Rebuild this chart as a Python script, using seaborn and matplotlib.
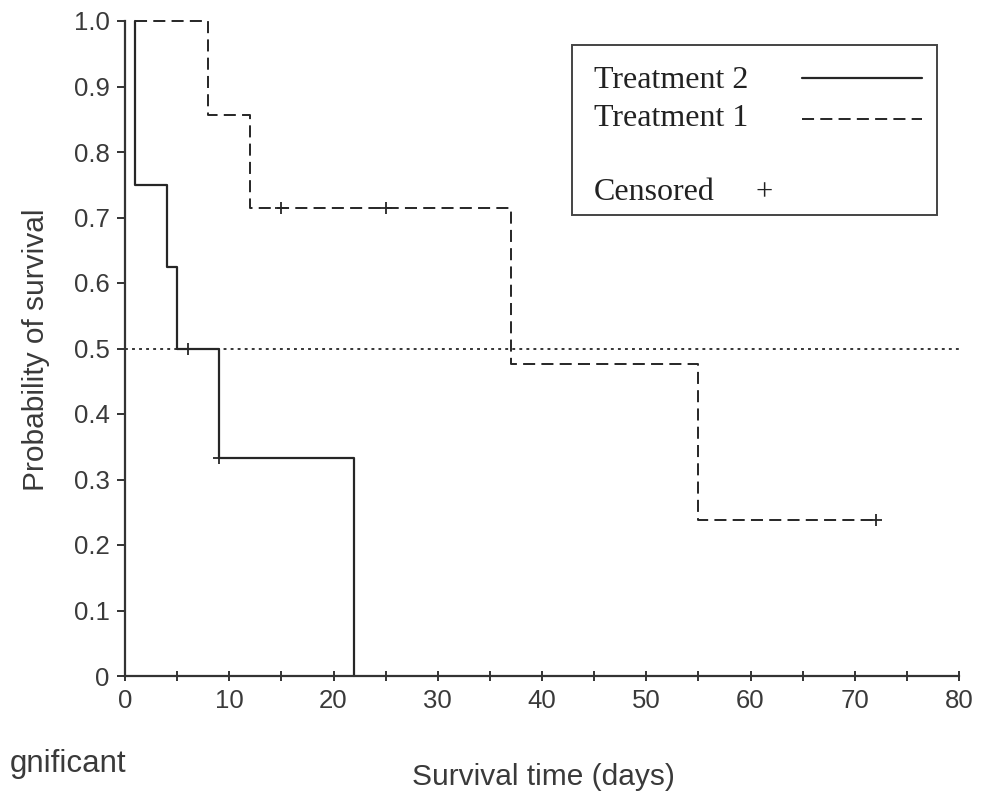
import matplotlib
matplotlib.use("Agg")
import matplotlib.pyplot as plt
from matplotlib.patches import Rectangle
import seaborn as sns
import pandas as pd
import numpy as np

# ---- data ----
t1_event_times = [1, 8, 12, 37, 55, 72]
t1_survival = [1.0, 0.857, 0.714, 0.476, 0.238, 0.238]
t1_censor_times = [15, 25, 72]
t1_censor_surv = [0.714, 0.714, 0.238]

t2_event_times = [1, 1, 4, 5, 9, 22]
t2_survival = [1.0, 0.75, 0.625, 0.5, 0.333, 0.0]
t2_censor_times = [6, 9]
t2_censor_surv = [0.5, 0.333]

median_level = 0.5
x_ticks = [0, 10, 20, 30, 40, 50, 60, 70, 80]
y_ticks = [0, 0.1, 0.2, 0.3, 0.4, 0.5, 0.6, 0.7, 0.8, 0.9, 1.0]
y_tick_labels = ["0", "0.1", "0.2", "0.3", "0.4", "0.5", "0.6", "0.7", "0.8", "0.9", "1.0"]

sns.set_theme(style="ticks")
plt.rcParams["font.family"] = ["Liberation Sans", "DejaVu Sans"]

W, H = 985, 793
fig = plt.figure(figsize=(W / 100, H / 100), dpi=100)
L, R, B, T = 125, 959, 676, 21
ax = fig.add_axes([L / W, 1 - B / H, (R - L) / W, (B - T) / H])

ink = "#262626"
txt = "#3a3a3a"

df1 = pd.DataFrame({"time": t1_event_times, "surv": t1_survival})
df2 = pd.DataFrame({"time": t2_event_times, "surv": t2_survival})
c1 = pd.DataFrame({"time": t1_censor_times, "surv": t1_censor_surv})
c2 = pd.DataFrame({"time": t2_censor_times, "surv": t2_censor_surv})

ax.axhline(median_level, color=ink, lw=1.3, linestyle=(0, (1.6, 2.3)), zorder=1)

sns.lineplot(data=df2, x="time", y="surv", ax=ax, estimator=None, sort=False,
             drawstyle="steps-post", color=ink, linewidth=1.6, clip_on=False)
sns.lineplot(data=df1, x="time", y="surv", ax=ax, estimator=None, sort=False,
             drawstyle="steps-post", color=ink, linewidth=1.4,
             linestyle=(0, (6.2, 3.2)), clip_on=False)
for c in (c1, c2):
    sns.scatterplot(data=c, x="time", y="surv", ax=ax, marker="+", s=80,
                    color=ink, linewidth=1.3, clip_on=False, zorder=5)

ax.set_xlim(0, 80)
ax.set_ylim(0, 1.0)
ax.set_xticks(x_ticks)
ax.set_xticks(np.arange(5, 80, 10), minor=True)
ax.set_yticks(y_ticks)
ax.set_yticklabels(y_tick_labels)
ax.set_xlabel("")
ax.set_ylabel("")
sns.despine(ax=ax)
for s in ("left", "bottom"):
    ax.spines[s].set_color("#333333")
    ax.spines[s].set_linewidth(1.6)
ax.tick_params(axis="y", direction="out", length=6, width=1.4, color="#333333",
               labelsize=18.5, labelcolor=txt, pad=5)
ax.tick_params(axis="x", which="both", direction="inout", length=7, width=1.4,
               color="#333333", labelsize=18.5, labelcolor=txt, pad=6)

# axis titles
fig.text(543 / W, 1 - 777 / H, "Survival time (days)", ha="center", va="center",
         fontsize=21.5, color=txt)
fig.text(36 / W, 1 - 350 / H, "Probability of survival", ha="center", va="center",
         rotation=90, fontsize=21.5, color=txt)
fig.text(126 / W, 1 - 764 / H, "gnificant", ha="right", va="center",
         fontsize=22.5, color=txt)

# legend box (manual, serif)
def ax_xy(px, py):
    return (px - L) / (R - L), (B - py) / (B - T)

x0, y0 = ax_xy(572, 215)
x1, y1 = ax_xy(937, 45)
ax.add_patch(Rectangle((x0, y0), x1 - x0, y1 - y0, transform=ax.transAxes,
                       fill=True, facecolor="white", edgecolor="#444444",
                       linewidth=1.4, zorder=6, clip_on=False))
serif = ["Liberation Serif", "DejaVu Serif"]
for label, py in (("Treatment 2", 80), ("Treatment 1", 118), ("Censored", 193)):
    tx, ty = ax_xy(594, py)
    ax.text(tx, ty, label, transform=ax.transAxes, ha="left", va="center",
            fontsize=23, family=serif, color="#222222", zorder=7)
lx0, ly = ax_xy(802, 78)
lx1, _ = ax_xy(922, 78)
ax.plot([lx0, lx1], [ly, ly], transform=ax.transAxes, color=ink, lw=1.6,
        zorder=7, clip_on=False)
_, ly2 = ax_xy(802, 119)
ax.plot([lx0, lx1], [ly2, ly2], transform=ax.transAxes, color=ink, lw=1.4,
        linestyle=(0, (6.2, 3.2)), zorder=7, clip_on=False)
px_, py_ = ax_xy(764, 193)
ax.text(px_, py_, "+", transform=ax.transAxes, ha="center", va="center",
        fontsize=22, family=serif, color="#222222", zorder=7)

fig.savefig("out.png", dpi=100, facecolor="white")
